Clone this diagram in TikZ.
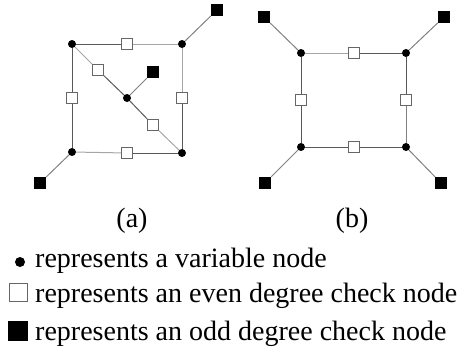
\documentclass[tikz,border=0pt]{standalone}
\usepackage{fontspec}
\setmainfont{Liberation Serif}
\begin{document}
\begin{tikzpicture}[x=1pt,y=-1pt,
    var/.style={circle,fill=black,inner sep=0pt,minimum size=8pt},
    even/.style={rectangle,draw=gray!80!black,fill=white,line width=0.9pt,inner sep=0pt,minimum size=11pt},
    odd/.style={rectangle,fill=black,inner sep=0pt,minimum size=12pt},
    dk/.style={draw=black!65,line width=1pt},
    lt/.style={draw=black!35,line width=1pt},
    md/.style={draw=black!50,line width=1pt},
    lbl/.style={inner sep=0pt,font=\fontsize{28}{32}\selectfont}]
  \useasboundingbox (0,0) rectangle (464,356);

  % (a)
  \node[var] (a1) at (72,44) {};
  \node[var] (a2) at (182,44) {};
  \node[var] (a3) at (72,152) {};
  \node[var] (a4) at (182,153) {};
  \node[var] (a0) at (127,98) {};
  \node[even] (at) at (127,44) {};
  \node[even] (al) at (72,98) {};
  \node[even] (ar) at (182,98) {};
  \node[even] (ab) at (127,153) {};
  \node[even] (ad1) at (98,70) {};
  \node[even] (ad2) at (153,125) {};
  \node[odd] (ao1) at (217,10) {};
  \node[odd] (ao2) at (153,72) {};
  \node[odd] (ao3) at (40,183) {};
  \draw[dk] (a1) -- (at);
  \draw[lt] (at) -- (a2);
  \draw[lt] (a2) -- (ar);
  \draw[dk] (ar) -- (a4);
  \draw[lt] (a3) -- (ab);
  \draw[dk] (ab) -- (a4);
  \draw[dk] (a1) -- (al);
  \draw[dk] (al) -- (a3);
  \draw[lt] (a1) -- (ad1);
  \draw[dk] (ad1) -- (a0);
  \draw[dk] (a0) -- (ad2);
  \draw[lt] (ad2) -- (a4);
  \draw[md] (a2) -- (ao1);
  \draw[md] (a0) -- (ao2);
  \draw[md] (a3) -- (ao3);

  % (b)
  \node[var] (b1) at (301,53) {};
  \node[var] (b2) at (406,53) {};
  \node[var] (b3) at (301,147) {};
  \node[var] (b4) at (406,147) {};
  \node[even] (bt) at (354,53) {};
  \node[even] (bb) at (354,147) {};
  \node[even] (bl) at (301,100) {};
  \node[even] (br) at (406,100) {};
  \node[odd] (bo1) at (264,17) {};
  \node[odd] (bo2) at (444,17) {};
  \node[odd] (bo3) at (265,183) {};
  \node[odd] (bo4) at (441,183) {};
  \draw[lt] (b1) -- (bt);
  \draw[dk] (bt) -- (b2);
  \draw[dk] (b1) -- (bl);
  \draw[dk] (bl) -- (b3);
  \draw[dk] (b2) -- (br);
  \draw[md] (br) -- (b4);
  \draw[dk] (b3) -- (bb);
  \draw[dk] (bb) -- (b4);
  \draw[md] (b1) -- (bo1);
  \draw[md] (b2) -- (bo2);
  \draw[md] (b3) -- (bo3);
  \draw[md] (b4) -- (bo4);

  \node[lbl,anchor=base] (capa) at (132,227) {(a)};
  \node[lbl,anchor=base] (capb) at (352,227) {(b)};

  % legend
  \node[var,minimum size=10pt] (kvar) at (20,262) {};
  \node[even,minimum size=18pt,line width=1pt] (keven) at (18,292) {};
  \node[odd,minimum size=20pt] (kodd) at (18,331) {};
  \node[lbl,anchor=base west] (tvar) at (35,267) {represents a variable node};
  \node[lbl,anchor=base west] (teven) at (35,302) {represents an even degree check node};
  \node[lbl,anchor=base west] (todd) at (35,340) {represents an odd degree check node};
\end{tikzpicture}
\end{document}
